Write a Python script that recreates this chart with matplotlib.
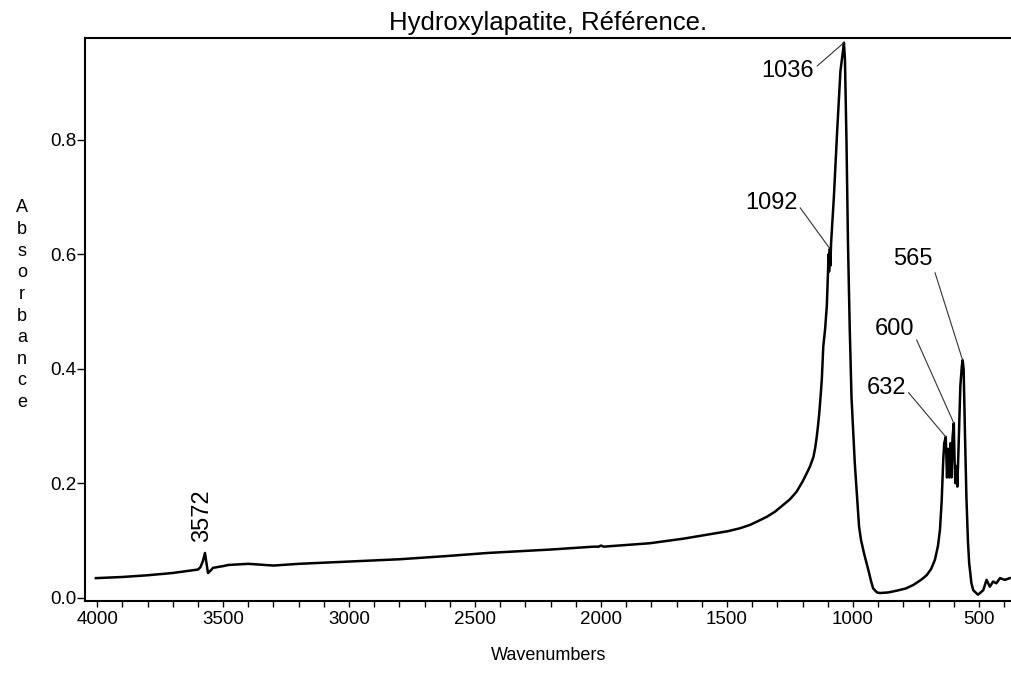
import numpy as np
import matplotlib
matplotlib.use("Agg")
import matplotlib.pyplot as plt
from matplotlib.ticker import MultipleLocator

plt.rcParams["font.family"] = ["Liberation Sans", "DejaVu Sans"]

# spectrum (wavenumber in cm-1, absorbance)
wavenumber = [4005, 3900, 3800, 3700, 3650, 3600, 3590, 3580, 3572, 3566,
              3560, 3550, 3540, 3500, 3480, 3400, 3300, 3200, 3000, 2800,
              2600, 2450, 2200, 2030, 2010, 2000, 1990, 1960, 1806, 1673,
              1497, 1450, 1409, 1380, 1343, 1310, 1277, 1250, 1224, 1200,
              1184, 1170, 1157, 1150, 1144, 1139, 1134, 1129, 1124,
              1118, 1111, 1104, 1100, 1097, 1095, 1092, 1090, 1087, 1076,
              1063, 1050, 1040, 1036, 1032, 1026, 1020, 1013, 1006, 993,
              976, 968, 955, 939, 928, 920, 905, 893, 860, 827,
              790, 761, 730, 708, 690, 675, 663, 655, 648, 642,
              638, 635, 632, 627, 622, 618, 613, 609, 605, 600,
              597, 594, 590, 586, 582, 574, 568, 565, 561, 556,
              550, 544, 539, 530, 523, 504, 483, 470, 457, 444,
              431, 417, 397, 378]
absorbance = [0.034, 0.036, 0.039, 0.043, 0.046, 0.049, 0.053, 0.064, 0.078, 0.060,
              0.043, 0.047, 0.052, 0.055, 0.057, 0.059, 0.056, 0.059, 0.063, 0.067,
              0.073, 0.078, 0.084, 0.089, 0.089, 0.091, 0.089, 0.090, 0.095, 0.103,
              0.116, 0.121, 0.127, 0.133, 0.141, 0.150, 0.162, 0.172, 0.185, 0.203,
              0.217, 0.230, 0.246, 0.262, 0.281, 0.300, 0.322, 0.350, 0.380,
              0.439, 0.468, 0.510, 0.560, 0.600, 0.570, 0.610, 0.580, 0.620, 0.700,
              0.815, 0.920, 0.955, 0.970, 0.940, 0.800, 0.620, 0.470, 0.350, 0.235,
              0.124, 0.100, 0.075, 0.048, 0.028, 0.016, 0.009, 0.008, 0.009, 0.012,
              0.016, 0.022, 0.031, 0.039, 0.050, 0.066, 0.090, 0.118, 0.170, 0.240,
              0.270, 0.275, 0.281, 0.210, 0.260, 0.210, 0.270, 0.210, 0.280, 0.305,
              0.240, 0.200, 0.230, 0.194, 0.250, 0.370, 0.405, 0.415, 0.400, 0.293,
              0.176, 0.100, 0.060, 0.025, 0.013, 0.005, 0.013, 0.031, 0.019, 0.028,
              0.025, 0.034, 0.031, 0.034]

peak_labels = ["1036", "1092", "565", "600", "632"]
peak_positions = [1036, 1092, 565, 600, 632]
oh_label = "3572"
y_ticks = [0.0, 0.2, 0.4, 0.6, 0.8]

wn = np.array(wavenumber)
ab = np.array(absorbance)

fig = plt.figure(figsize=(10.11, 6.75), dpi=100)
ax = fig.add_axes([0.0841, 0.1096, 0.9159, 0.834])
ax.plot(wn, ab, color="black", lw=1.8, solid_joinstyle="round")

ax.set_xlim(4048, 373)
ax.set_ylim(-0.006, 0.978)
ax.xaxis.set_major_locator(MultipleLocator(500))
ax.xaxis.set_minor_locator(MultipleLocator(100))
ax.set_yticks(y_ticks)
ax.set_yticklabels([f"{v:.1f}" for v in y_ticks])
ax.tick_params(axis="x", which="both", direction="out", length=4,
               width=1, pad=3.5, labelsize=13.5)
ax.tick_params(axis="y", direction="out", length=5.5, width=1,
               pad=0.5, labelsize=13.5)
ax.spines["right"].set_visible(False)
for sp in ["left", "bottom", "top"]:
    ax.spines[sp].set_linewidth(1.5)

# peak labels with thin leader lines (text centre in data coords, leader start)
text_spots = {"1036": (1258, 0.921, (1.0, 0.6)),
              "1092": (1325, 0.690, (1.0, 0.45)),
              "565": (762, 0.592, (1.0, 0.2)),
              "600": (837, 0.469, (1.0, 0.3)),
              "632": (869, 0.366, (1.0, 0.45))}
for lab, pw in zip(peak_labels, peak_positions):
    tx, ty, rp = text_spots[lab]
    py = np.interp(pw, wn[::-1], ab[::-1])
    ax.annotate(lab, xy=(pw, py), xytext=(tx, ty), textcoords="data",
                ha="center", va="center", fontsize=17,
                arrowprops=dict(arrowstyle="-", color="#333333", lw=0.8,
                                shrinkA=0, shrinkB=0, relpos=rp))

ax.text(3583, 0.144, oh_label, rotation=90, ha="center", va="center",
        fontsize=17)

fig.text(0.542, 0.9556, "Hydroxylapatite, Référence.", ha="center",
         va="baseline", fontsize=18.5)
fig.text(0.543, 1 - 655 / 675, "Wavenumbers", ha="center", va="center",
         fontsize=13)
for i, ch in enumerate("Absorbance"):
    fig.text(22 / 1011, 1 - (208 + i * 21.6) / 675, ch, ha="center",
             va="center", fontsize=13)

fig.savefig("out.png", dpi=100)
